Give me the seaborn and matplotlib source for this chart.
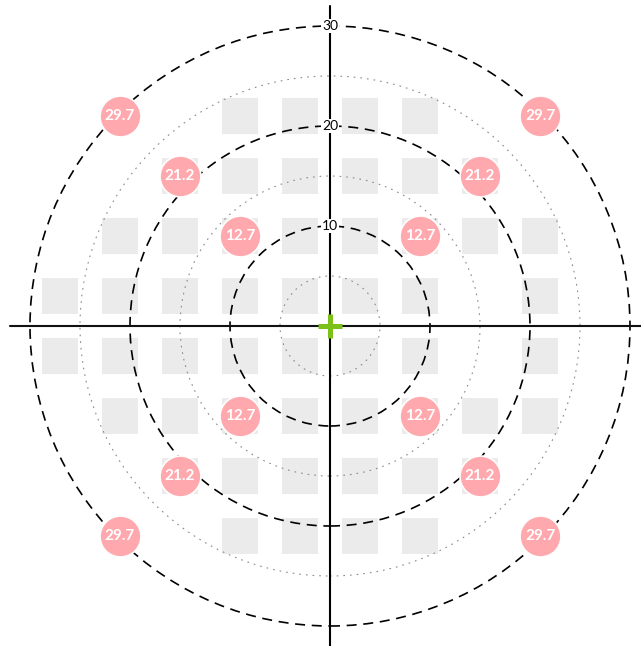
import numpy as np
import pandas as pd
import matplotlib
matplotlib.use("Agg")
import matplotlib.pyplot as plt
from matplotlib.patches import Circle
import seaborn as sns

# 24-2 test grid: row eccentricity (deg) and the x positions tested in each row
row_y = [21, 15, 9, 3, -3, -9, -15, -21]
row_x = [
    [-9, -3, 3, 9],
    [-15, -9, -3, 3, 9, 15],
    [-21, -15, -9, -3, 3, 9, 15, 21],
    [-27, -21, -15, -9, -3, 3, 9, 21],
    [-27, -21, -15, -9, -3, 3, 9, 21],
    [-21, -15, -9, -3, 3, 9, 15, 21],
    [-15, -9, -3, 3, 9, 15],
    [-9, -3, 3, 9],
]

# Highlighted oblique locations: eccentricity (deg) along each diagonal meridian
diag_ecc = [12.7, 21.2, 29.7]
diag_angles = [45, 135, 225, 315]

# Reference rings (deg)
dashed_rings = [10, 20, 30]
dotted_rings = [5, 15, 25]
tick_labels = ["10", "20", "30"]

grid = pd.DataFrame(
    [(x, y) for y, xs in zip(row_y, row_x) for x in xs], columns=["x", "y"]
)
diag = pd.DataFrame(
    [
        (e * np.cos(np.radians(a)), e * np.sin(np.radians(a)), e)
        for e in diag_ecc
        for a in diag_angles
    ],
    columns=["x", "y", "ecc"],
)

sns.set_theme(style="white")
fig = plt.figure(figsize=(6.41, 6.46), dpi=100)
ax = fig.add_axes([0, 0, 1, 1])
ax.set_xlim(-33, 31.1)
ax.set_ylim(-32, 32.6)
ax.set_aspect("equal")
ax.axis("off")

# tested locations
sns.scatterplot(
    data=grid, x="x", y="y", marker="s", s=672, color="#ebebeb",
    linewidth=0, ax=ax, zorder=1, legend=False,
)

# eccentricity rings
for r in dotted_rings:
    ax.add_patch(Circle((0, 0), r, fill=False, ec="#8a8a8a", lw=0.8,
                        ls=(0, (1.5, 4.5)), zorder=2))
for r in dashed_rings:
    ax.add_patch(Circle((0, 0), r, fill=False, ec="black", lw=1.2,
                        ls=(0, (6, 4)), zorder=2))

# meridians
ax.plot([-32, 32], [0, 0], color="#111111", lw=1.5, zorder=3)
ax.plot([0, 0], [-32, 32], color="black", lw=1.5, zorder=3)

# ring labels on the vertical meridian
for r, t in zip(dashed_rings, tick_labels):
    ax.text(0, r, t, ha="center", va="center", fontsize=10, family="Lato",
            color="black", zorder=4,
            bbox=dict(boxstyle="square,pad=0.05", fc="white", ec="none"))

# fixation cross
ax.plot([-1.2, 1.2], [0, 0], color="#7cc11a", lw=3.6, solid_capstyle="butt", zorder=5)
ax.plot([0, 0], [-1.2, 1.2], color="#7cc11a", lw=3.6, solid_capstyle="butt", zorder=5)

# highlighted oblique locations with their eccentricity
sns.scatterplot(
    data=diag, x="x", y="y", marker="o", s=870, color="#ffa9ae",
    edgecolor="white", linewidth=1.2, ax=ax, zorder=6, legend=False,
)
for _, row in diag.iterrows():
    ax.text(row.x, row.y, f"{row.ecc:.1f}", ha="center", va="center",
            fontsize=11, fontweight="bold", family="Lato", color="white",
            zorder=7)

fig.savefig("out.png", dpi=100)
